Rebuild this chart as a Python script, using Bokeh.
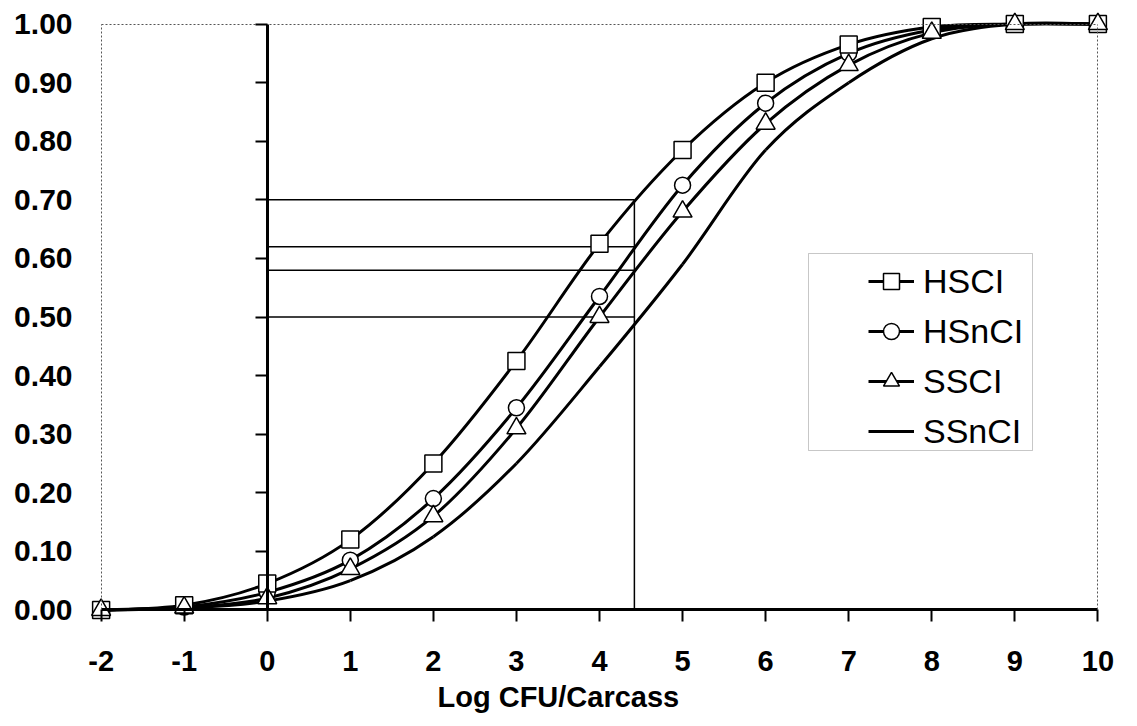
import numpy as np
from bokeh.plotting import figure
from bokeh.models import (LinearAxis, FixedTicker, NumeralTickFormatter, Range1d,
                          BoxAnnotation, Title, CustomJSTickFormatter, ColumnDataSource)
from bokeh.embed import file_html
from bokeh.resources import INLINE

# Cumulative probability of detection versus contamination level
log_cfu = [-2, -1, 0, 1, 2, 3, 4, 5, 6, 7, 8, 9, 10]
hsci = [0.00, 0.008, 0.045, 0.12, 0.25, 0.425, 0.625, 0.785, 0.90, 0.965, 0.995, 1.00, 1.00]
hsnci = [0.00, 0.005, 0.03, 0.085, 0.19, 0.345, 0.535, 0.725, 0.865, 0.95, 0.99, 1.00, 1.00]
ssci = [0.00, 0.004, 0.02, 0.07, 0.16, 0.31, 0.50, 0.68, 0.83, 0.93, 0.985, 1.00, 1.00]
ssnci = [0.00, 0.003, 0.015, 0.05, 0.125, 0.25, 0.415, 0.59, 0.785, 0.90, 0.975, 1.00, 1.00]

series_names = ["HSCI", "HSnCI", "SSCI", "SSnCI"]

x_ticks = [-2, -1, 0, 1, 2, 3, 4, 5, 6, 7, 8, 9, 10]
x_tick_labels = ["-2", "-1", "0", "1", "2", "3", "4", "5", "6", "7", "8", "9", "10"]
y_ticks = [0.0, 0.1, 0.2, 0.3, 0.4, 0.5, 0.6, 0.7, 0.8, 0.9, 1.0]

# Read-off guides: contamination level and the probabilities of each curve there
ref_x = 4.42
ref_levels = [0.70, 0.62, 0.58, 0.50]

FONT = "Liberation Sans"


def smooth_segments(xs, ys):
    """Cubic Bezier pieces through the points (Catmull-Rom style smoothing)."""
    x = np.asarray(xs, dtype=float)
    y = np.asarray(ys, dtype=float)
    xp = np.concatenate([[x[0]], x, [x[-1]]])
    yp = np.concatenate([[y[0]], y, [y[-1]]])
    i = np.arange(len(x) - 1)
    return ColumnDataSource(dict(
        x0=x[i], y0=y[i], x1=x[i + 1], y1=y[i + 1],
        cx0=x[i] + (xp[i + 2] - xp[i]) / 6.0,
        cy0=y[i] + (yp[i + 2] - yp[i]) / 6.0,
        cx1=x[i + 1] - (xp[i + 3] - xp[i + 1]) / 6.0,
        cy1=y[i + 1] - (yp[i + 3] - yp[i + 1]) / 6.0,
    ))


p = figure(width=1137, height=726,
           x_range=Range1d(-2.2, 10.2), y_range=Range1d(-0.03, 1.03),
           output_backend="svg", toolbar_location=None,
           x_axis_location=None, y_axis_location=None,
           min_border_left=84, min_border_right=23,
           min_border_top=6, min_border_bottom=99,
           outline_line_color=None,
           background_fill_color="white", border_fill_color="white")
p.xgrid.visible = False
p.ygrid.visible = False

blank = CustomJSTickFormatter(code="return ''")

# y tick labels at the left edge
ylab = LinearAxis(ticker=FixedTicker(ticks=y_ticks),
                  formatter=NumeralTickFormatter(format="0.00"),
                  axis_line_color=None, major_tick_line_color=None,
                  minor_tick_line_color=None, major_tick_out=0, major_tick_in=0,
                  major_label_standoff=12,
                  major_label_text_font=FONT, major_label_text_font_size="30px",
                  major_label_text_font_style="bold", major_label_text_color="black")
p.add_layout(ylab, "left")

# y axis line crossing at zero
yline = LinearAxis(fixed_location=0, bounds=(0, 1),
                   ticker=FixedTicker(ticks=y_ticks), formatter=blank,
                   axis_line_width=3, axis_line_color="black",
                   major_tick_line_width=2, major_tick_line_color="black",
                   major_tick_out=12, major_tick_in=0,
                   minor_tick_line_color=None, major_label_standoff=0)
p.add_layout(yline, "left")

# x axis line at y = 0
xline = LinearAxis(fixed_location=0, bounds=(-2, 10),
                   ticker=FixedTicker(ticks=x_ticks), formatter=blank,
                   axis_line_width=3, axis_line_color="black",
                   major_tick_line_width=2, major_tick_line_color="black",
                   major_tick_out=12, major_tick_in=0,
                   minor_tick_line_color=None, major_label_standoff=0)
p.add_layout(xline, "below")

# x tick labels
xlab = LinearAxis(ticker=FixedTicker(ticks=x_ticks),
                  major_label_overrides=dict(zip(x_ticks, x_tick_labels)),
                  axis_line_color=None, major_tick_line_color=None,
                  minor_tick_line_color=None, major_tick_out=0, major_tick_in=0,
                  major_label_standoff=23,
                  major_label_text_font=FONT, major_label_text_font_size="29px",
                  major_label_text_font_style="bold", major_label_text_color="black")
p.add_layout(xlab, "below")

p.add_layout(Title(text="Log CFU/Carcass", align="left", offset=353,
                   text_font=FONT, text_font_size="29px", text_font_style="bold",
                   text_color="black"), "below")

# dotted plot-area border on the left, top and right
for loc, side, bnds in [(-2, "left", (0, 1)), (10, "right", (0, 1)), (1, "above", (-2, 10))]:
    p.add_layout(LinearAxis(fixed_location=loc, bounds=bnds,
                            ticker=FixedTicker(ticks=[]), formatter=blank,
                            axis_line_color="#555555", axis_line_width=1,
                            axis_line_dash="2 2",
                            major_tick_out=0, major_tick_in=0,
                            major_tick_line_color=None, minor_tick_line_color=None,
                            major_label_standoff=0), side)

# read-off guide lines
p.segment(x0=[0] * len(ref_levels), y0=ref_levels,
          x1=[ref_x] * len(ref_levels), y1=ref_levels,
          line_color="black", line_width=1.5)
p.segment(x0=[ref_x], y0=[0], x1=[ref_x], y1=[max(ref_levels)],
          line_color="black", line_width=1.5)

all_series = [hsci, hsnci, ssci, ssnci]
for name, vals in zip(series_names, all_series):
    p.bezier(x0="x0", y0="y0", x1="x1", y1="y1", cx0="cx0", cy0="cy0",
             cx1="cx1", cy1="cy1", source=smooth_segments(log_cfu, vals),
             line_color="black", line_width=3, legend_label=name)

marker_style = dict(fill_color="white", line_color="black", line_width=1.5)
p.scatter(log_cfu, hsnci, marker="circle", size=16, legend_label="HSnCI", **marker_style)
p.scatter(log_cfu, hsci, marker="square", size=17, legend_label="HSCI", **marker_style)
p.scatter(log_cfu, ssci, marker="triangle", size=19, legend_label="SSCI", **marker_style)

leg = p.legend[0]
leg.location = (784, 176)
leg.padding = 8
leg.spacing = 10
leg.margin = 0
leg.glyph_width = 46
leg.glyph_height = 40
leg.label_height = 40
leg.label_standoff = 9
leg.label_text_font = FONT
leg.label_text_font_size = "34px"
leg.label_text_color = "black"
leg.border_line_color = None
leg.background_fill_alpha = 0

p.add_layout(BoxAnnotation(left=808, right=1032, top=253, bottom=450,
                           left_units="canvas", right_units="canvas",
                           top_units="canvas", bottom_units="canvas",
                           fill_alpha=0, line_color="#444444", line_width=1))

open("out.html", "w").write(file_html(p, INLINE))
